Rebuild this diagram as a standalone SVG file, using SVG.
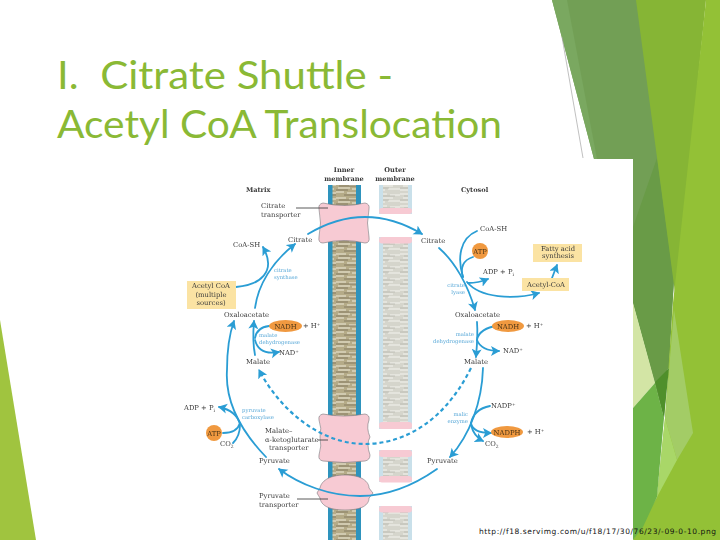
<svg xmlns="http://www.w3.org/2000/svg" width="720" height="540" viewBox="0 0 720 540">
<style>
text{font-family:"DejaVu Serif","Liberation Serif",serif;font-size:6.800px;fill:#3a3a3a}
.b{font-weight:bold;font-size:6.600px}
.m{text-anchor:middle}
.e{text-anchor:end}
.en{font-size:5.300px;fill:#5aa9d8}
.hl{font-size:6.800px;fill:#4a3418;text-anchor:middle}
.t{font-family:"Lato","Open Sans",sans-serif;font-size:39px;fill:#8ab935;white-space:pre}
.arr{fill:none;stroke:#2a9dd4;stroke-width:1.800;stroke-linecap:round}
.head{marker-end:url(#ah)}
.dash{stroke-width:2.200;stroke-dasharray:4 3;stroke-linecap:butt}
.lead{fill:none;stroke:#333;stroke-width:.8}
.ox{fill:#f0993f}
.box{fill:#fbe3a3}
.pk{fill:#f7cad3}
.tp{fill:#f7cad3;stroke:#77757a;stroke-width:.6}
.ib{fill:#2f93bd}
.ic{fill:url(#tex)}
.oc{fill:url(#tex2)}
.os{fill:#c9e0ea}
</style>
<defs>
<marker id="ah" markerUnits="userSpaceOnUse" markerWidth="12" markerHeight="12" refX="8" refY="5" orient="auto"><path d="M0 0L9 5L0 10L2.200 5Z" fill="#2a9dd4"/></marker>
<pattern id="tex" width="24" height="14" patternUnits="userSpaceOnUse"><rect width="24" height="14" fill="#b5ab88"/><path d="M0 2H10M13 3H24M2 6H14M16 7H22M0 10H8M11 11H24" stroke="#eee9d8" stroke-width="1.100"/><path d="M3 4H20M0 8H12M8 13H24" stroke="#6f6650" stroke-width=".7"/></pattern>
<pattern id="tex2" width="25" height="12" patternUnits="userSpaceOnUse"><rect width="25" height="12" fill="#d5d5cc"/><path d="M0 2H12M15 3H25M3 6H18M0 10H10M13 9H25" stroke="#f4f4ee" stroke-width="1"/><path d="M4 4H20M0 8H14" stroke="#a5a59c" stroke-width=".5"/></pattern>
<filter id="soft" x="-5%" y="-5%" width="110%" height="110%"><feGaussianBlur stdDeviation="0.3"/></filter>
</defs>
<rect width="720" height="540" fill="#fff"/>
<g id="background">
<path d="M0 320L36 540H0Z" fill="#a0c43f"/>
<path d="M552 0H640L674 280L664 418L633 303V159H594Z" fill="#729f55"/>
<path d="M552 0H567L597 159H594Z" fill="#7aa860"/>
<path d="M633 227L657 158L674 280L669 368L655 382L633 303Z" fill="#699b47"/>
<path d="M636 0H706L676 300Z" fill="#86b535"/>
<path d="M706 0H720V540H633L657 497L665 418L673 303Z" fill="#93c136"/>
<path d="M674 310L693 433L677 460L665 418Z" fill="#a3cc66"/>
<path d="M665 418L677 460L657 497Z" fill="#a9d768"/>
<path d="M633 303L655 383L633 408Z" fill="#d3e5a5"/>
<path d="M633 408L655 383L664 418L657 497L643 527L633 540Z" fill="#6db347"/>
<path d="M669 368L664 418L655 382Z" fill="#4f8f2b"/>
<path d="M562 37L583 158" fill="none" stroke="#a5a5a5" stroke-width=".7"/>
<rect x="170" y="159" width="463" height="381" fill="#fff"/>
</g>
<g id="title">
<text class="t" x="57" y="89" textLength="336" lengthAdjust="spacingAndGlyphs">I.  Citrate Shuttle -</text>
<text class="t" x="57" y="138" textLength="445" lengthAdjust="spacingAndGlyphs">Acetyl CoA Translocation</text>
</g>
<g id="figure" filter="url(#soft)">
<g id="membranes">
<rect class="ib" x="328" y="185" width="33" height="355"/>
<rect class="ic" x="332.500" y="185" width="23.500" height="355"/>
<rect class="os" x="379" y="185" width="33" height="355"/>
<rect class="oc" x="383" y="185" width="25" height="355"/>
<rect x="379" y="214" width="33" height="23" fill="#fff"/>
<rect x="379" y="429" width="33" height="21" fill="#fff"/>
<rect x="379" y="482" width="33" height="24" fill="#fff"/>
<rect class="pk" x="379" y="208" width="33" height="6" rx="3"/>
<rect class="pk" x="379" y="237" width="33" height="6.500" rx="3"/>
<rect class="pk" x="379" y="422" width="33" height="7" rx="3"/>
<rect class="pk" x="379" y="450" width="33" height="7" rx="3"/>
<rect class="pk" x="379" y="476" width="33" height="6.500" rx="3"/>
<rect class="pk" x="379" y="506" width="33" height="6.500" rx="3"/>
</g>
<g id="citrate-transporter">
<path class="tp" d="M323 203Q344 208 365 203Q370 204 369 209Q366 223 369 237Q370 243 365 243Q344 238 323 243Q318 243 319 237Q322 223 319 209Q318 204 323 203Z"/>
<path class="lead" d="M296 208H328"/>
<text x="261" y="208">Citrate</text><text x="261" y="217">transporter</text>
</g>
<g id="malate-transporter">
<path class="tp" d="M323 414Q344 418 365 414Q370 415 369 420Q366 428 370 437Q366 444 370 455Q370 460 365 461Q344 464 323 461Q318 460 319 455Q322 446 320 437Q322 428 319 420Q318 415 323 414Z"/>
<path class="lead" d="M318 440H328"/>
<text x="265" y="433">Malate–</text><text x="265" y="442" font-size="6.300">α-ketoglutarate</text><text x="269" y="450">transporter</text>
</g>
<g id="pyruvate-transporter">
<path class="tp" d="M345 475C362 475 369 482 369 488Q372 492 373 493Q372 495 369 498C369 505 362 510 345 510C328 510 321 505 320 498Q318 495 317 493Q318 491 320 488C321 482 328 475 345 475Z"/>
<path class="lead" d="M297 499H328"/>
<text x="259" y="498">Pyruvate</text><text x="259" y="507">transporter</text>
</g>
<g id="connectors">
<path class="arr head" d="M308 234Q365 200 422 234"/>
<path class="arr head" d="M255 308C258 285 272 262 295 244"/>
<path class="arr head" d="M236 287C260 285 277 272 263 247"/>
<path class="arr head" d="M255 355C253 345 253 333 254 321"/>
<path class="arr" d="M269 326C260 327 256 332 255 338"/>
<path class="arr head" d="M255 340C258 352 268 354 279 352"/>
<path class="arr head" d="M266 457C240 430 225 400 227 370C227 350 229 335 234 321"/>
<path class="arr" d="M223 433C232 433 238 430 240 423"/>
<path class="arr head" d="M240 424C237 413 228 409 219 407"/>
<path class="arr" d="M233 443C238 438 240 432 240 425"/>
<path class="arr head dash" d="M471 368C440 430 395 444 365 444C320 444 280 410 259 370"/>
<path class="arr head" d="M437 469C410 488 385 496 360 496C330 496 300 485 279 469"/>
<path class="arr head" d="M439 248C455 262 468 285 475 310"/>
<path class="arr head" d="M467 282C480 298 513 300 539 293"/>
<path class="arr head" d="M468 283C474 283 481 282 488 279"/>
<path class="arr" d="M477 231C460 238 457 258 463 277"/>
<path class="arr" d="M473 257C463 260 460 268 463 277"/>
<path class="arr head" d="M552 278L557 265"/>
<path class="arr head" d="M477 322C478 335 477 345 476 357"/>
<path class="arr" d="M497 326C487 327 478 332 477 340"/>
<path class="arr head" d="M477 340C480 348 488 351 499 351"/>
<path class="arr head" d="M483 368C482 402 470 435 450 457"/>
<path class="arr" d="M490 406C480 408 473 413 471 423"/>
<path class="arr head" d="M471 423C472 430 480 433 491 433"/>
<path class="arr head" d="M471 425C473 433 477 438 483 441"/>
</g>
<g id="headings">
<text class="b m" x="344" y="172">Inner</text><text class="b m" x="344" y="181">membrane</text>
<text class="b m" x="395" y="172">Outer</text><text class="b m" x="395" y="181">membrane</text>
<text class="b" x="246" y="192">Matrix</text>
<text class="b" x="461" y="192">Cytosol</text>
</g>
<g id="matrix-nodes">
<g id="coa-sh-m"><text x="233" y="247">CoA-SH</text></g>
<g id="citrate-m"><text x="288" y="242">Citrate</text></g>
<g id="acetyl-coa-m"><rect class="box" x="187" y="281" width="49" height="28"/><text class="m" x="211" y="288">Acetyl CoA</text><text class="m" x="211" y="297">(multiple</text><text class="m" x="211" y="305">sources)</text></g>
<g id="oxaloacetate-m"><text x="224" y="317">Oxaloacetate</text></g>
<g id="nadh-m"><ellipse class="ox" cx="285.500" cy="326" rx="16.500" ry="6"/><text class="hl" x="285.500" y="328.500">NADH</text><text x="303" y="328">+ H⁺</text></g>
<g id="nad-m"><text x="279" y="355">NAD⁺</text></g>
<g id="malate-m"><text x="246" y="364">Malate</text></g>
<g id="adp-m"><text x="184" y="410">ADP + P<tspan font-size="4.500" dy="1.500">i</tspan></text></g>
<g id="atp-m"><circle class="ox" cx="214" cy="433" r="8"/><text class="hl" x="214" y="435.500">ATP</text></g>
<g id="co2-m"><text x="220" y="446">CO<tspan font-size="4.500" dy="1.500">2</tspan></text></g>
<g id="pyruvate-m"><text x="259" y="463">Pyruvate</text></g>
<text class="en" x="274" y="272">citrate</text><text class="en" x="274" y="279">synthase</text>
<text class="en" x="259" y="337">malate</text><text class="en" x="259" y="344">dehydrogenase</text>
<text class="en" x="242" y="412">pyruvate</text><text class="en" x="242" y="419">carboxylase</text>
</g>
<g id="cytosol-nodes">
<g id="coa-sh-c"><text x="480" y="231">CoA-SH</text></g>
<g id="citrate-c"><text x="421" y="243">Citrate</text></g>
<g id="atp-c"><circle class="ox" cx="480" cy="251" r="8"/><text class="hl" x="480" y="253.500">ATP</text></g>
<g id="fatty"><rect class="box" x="533" y="244" width="49" height="18"/><text class="m" x="558" y="251">Fatty acid</text><text class="m" x="558" y="258">synthesis</text></g>
<g id="adp-c"><text x="483" y="274">ADP + P<tspan font-size="4.500" dy="1.500">i</tspan></text></g>
<g id="acetyl-coa-c"><rect class="box" x="522" y="278" width="47" height="13"/><text class="m" x="546" y="286.500">Acetyl-CoA</text></g>
<g id="oxaloacetate-c"><text x="455" y="317">Oxaloacetate</text></g>
<g id="nadh-c"><ellipse class="ox" cx="508" cy="326" rx="16" ry="6"/><text class="hl" x="508" y="328.500">NADH</text><text x="526" y="328">+ H⁺</text></g>
<g id="nad-c"><text x="503" y="353">NAD⁺</text></g>
<g id="malate-c"><text x="464" y="364">Malate</text></g>
<g id="nadp-c"><text x="491" y="408">NADP⁺</text></g>
<g id="nadph-c"><ellipse class="ox" cx="507" cy="432" rx="16" ry="6"/><text class="hl" x="507" y="434.500">NADPH</text><text x="527" y="434">+ H⁺</text></g>
<g id="co2-c"><text x="485" y="446">CO<tspan font-size="4.500" dy="1.500">2</tspan></text></g>
<g id="pyruvate-c"><text x="427" y="463">Pyruvate</text></g>
<text class="en e" x="465" y="287">citrate</text><text class="en e" x="465" y="294">lyase</text>
<text class="en e" x="474" y="336">malate</text><text class="en e" x="474" y="343">dehydrogenase</text>
<text class="en e" x="468" y="416">malic</text><text class="en e" x="468" y="423">enzyme</text>
</g>
</g>
<text x="479" y="534" textLength="237" style="font-family:'DejaVu Sans','Liberation Sans',sans-serif;font-size:7.500px;fill:#111">http://f18.servimg.com/u/f18/17/30/76/23/-09-0-10.png</text>
</svg>
